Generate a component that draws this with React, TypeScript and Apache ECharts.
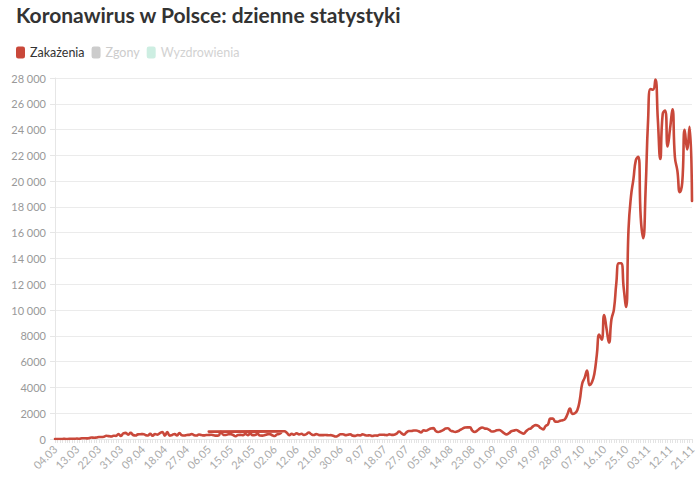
import React, { useEffect, useRef } from "react";
import * as echarts from "echarts";

// Day labels in data order (the source lists 06.06 as "06.05", and early July without a leading zero)
const labelsMar = ["04.03","05.03","06.03","07.03","08.03","09.03","10.03","11.03","12.03","13.03","14.03","15.03","16.03","17.03","18.03","19.03","20.03","21.03","22.03","23.03","24.03","25.03","26.03","27.03","28.03","29.03","30.03","31.03"];
const labelsApr = ["01.04","02.04","03.04","04.04","05.04","06.04","07.04","08.04","09.04","10.04","11.04","12.04","13.04","14.04","15.04","16.04","17.04","18.04","19.04","20.04","21.04","22.04","23.04","24.04","25.04","26.04","27.04","28.04","29.04","30.04"];
const labelsMay = ["01.05","02.05","03.05","04.05","05.05","06.05","07.05","08.05","09.05","10.05","11.05","12.05","13.05","14.05","15.05","16.05","17.05","18.05","19.05","20.05","21.05","22.05","23.05","24.05","25.05","26.05","27.05","28.05","29.05","30.05","31.05"];
const labelsJun = ["01.06","02.06","03.06","04.06","05.06","06.05","07.06","08.06","09.06","10.06","11.06","12.06","13.06","14.06","15.06","16.06","17.06","18.06","19.06","20.06","21.06","22.06","23.06","24.06","25.06","26.06","27.06","28.06","29.06","30.06"];
const labelsJul = ["1.07","2.07","3.07","4.07","5.07","6.07","7.07","8.07","9.07","10.07","11.07","12.07","13.07","14.07","15.07","16.07","17.07","18.07","19.07","20.07","21.07","22.07","23.07","24.07","25.07","26.07","27.07","28.07","29.07","30.07","31.07"];
const labelsAug = ["01.08","02.08","03.08","04.08","05.08","06.08","07.08","08.08","09.08","10.08","11.08","12.08","13.08","14.08","15.08","16.08","17.08","18.08","19.08","20.08","21.08","22.08","23.08","24.08","25.08","26.08","27.08","28.08","29.08","30.08","31.08"];
const labelsSep = ["01.09","02.09","03.09","04.09","05.09","06.09","07.09","08.09","09.09","10.09","11.09","12.09","13.09","14.09","15.09","16.09","17.09","18.09","19.09","20.09","21.09","22.09","23.09","24.09","25.09","26.09","27.09","28.09","29.09","30.09"];
const labelsOct = ["01.10","02.10","03.10","04.10","05.10","06.10","07.10","08.10","09.10","10.10","11.10","12.10","13.10","14.10","15.10","16.10","17.10","18.10","19.10","20.10","21.10","22.10","23.10","24.10","25.10","26.10","27.10","28.10","29.10","30.10","31.10"];
const labelsNov = ["01.11","02.11","03.11","04.11","05.11","06.11","07.11","08.11","09.11","10.11","11.11","12.11","13.11","14.11","15.11","16.11","17.11","18.11","19.11","20.11","21.11"];

// Daily infections (Zakażenia)
const casesMar = [0,4,1,5,6,5,9,20,17,36,14,52,61,49,70,111,98,115,152,150,170,249,224,193,256,243,392,244];
const casesApr = [437,475,333,475,311,267,357,370,380,318,268,401,260,380,336,461,545,263,545,263,313,381,285,460,285,266,316,322,381,299];
const casesMay = [270,351,307,282,307,318,325,294,259,271,595,310,309,364,380,305,216,311,318,303,384,304,416,299,316,395,271,260,312,361,379];
const casesJun = [292,230,361,396,576,575,599,480,300,395,340,440,359,407,314,375,506,371,305,377,320,300,302,311,290,298,261,193,260,371];
const casesJul = [371,302,329,358,262,243,299,280,358,299,276,290,233,270,262,335,334,322,301,359,318,337,418,584,443,337,512,615,615,657,658];
const casesAug = [599,512,680,640,726,809,843,619,548,601,680,811,832,658,594,548,597,700,811,887,903,900,650,547,650,800,887,820,790,700,580];
const casesSep = [600,680,700,600,450,360,450,600,650,700,600,500,420,600,757,830,1002,1080,1010,850,750,1000,1136,1587,1584,1350,1340,1420,1450,1552];
const casesOct = [1937,2367,1950,2000,2236,3003,4280,4739,5300,4178,4394,5068,6526,8099,7705,9622,8536,7482,9291,10040,12107,13632,13628,11742,10241,16300,18820,20156,21629,21897,17171];
const casesNov = [15578,19364,24692,27143,27086,27875,24785,21713,25221,25484,22683,24051,25571,21854,20816,19152,19883,23975,22464,24213,18467];

// Hidden series (switched off in the legend)
const deaths: number[] = [];
const recoveries: number[] = [];

const dayLabels = [...labelsMar, ...labelsApr, ...labelsMay, ...labelsJun, ...labelsJul, ...labelsAug, ...labelsSep, ...labelsOct, ...labelsNov];
const cases = [...casesMar, ...casesApr, ...casesMay, ...casesJun, ...casesJul, ...casesAug, ...casesSep, ...casesOct, ...casesNov];
const categories = dayLabels.filter((d, i) => dayLabels.indexOf(d) === i);

const seriesNames = ["Zakażenia", "Zgony", "Wyzdrowienia"];
const FONT = "Lato, 'Source Sans Pro', sans-serif";

const fmt = (v: number) => (v >= 10000 ? String(v).replace(/\B(?=(\d{3})+(?!\d))/g, " ") : String(v));

export default function App() {
  const ref = useRef<HTMLDivElement>(null);
  useEffect(() => {
    document.body.style.margin = "0";
    if (!ref.current) return;
    const chart = echarts.init(ref.current, undefined, { renderer: "svg" });
    chart.setOption({
      animation: false,
      backgroundColor: "#ffffff",
      title: {
        text: "Koronawirus w Polsce: dzienne statystyki",
        left: 16,
        top: 4,
        padding: 0,
        textStyle: { fontFamily: FONT, fontWeight: "bold", fontSize: 21, color: "#333333" },
      },
      legend: {
        left: 16,
        top: 46,
        padding: 0,
        itemWidth: 9,
        itemHeight: 12,
        itemGap: 7,
        icon: "roundRect",
        inactiveColor: "#cccccc",
        selected: { Zgony: false, Wyzdrowienia: false },
        data: [
          { name: seriesNames[0] },
          { name: seriesNames[1] },
          { name: seriesNames[2], inactiveColor: "#cdeee2" },
        ],
        formatter: (name: string) => (name === "Wyzdrowienia" ? "{g|" + name + "}" : name),
        textStyle: {
          fontFamily: FONT,
          fontSize: 12.5,
          color: "#333333",
          rich: { g: { color: "#d2d2d2", fontFamily: FONT, fontSize: 12.5 } },
        },
      },
      grid: { left: 55, right: 8, top: 78, bottom: 44 },
      xAxis: {
        type: "category",
        data: categories,
        boundaryGap: false,
        axisLine: { show: true, lineStyle: { color: "#e6e6e6" } },
        axisTick: { show: true, interval: 0, length: 4, lineStyle: { color: "#e4e4e4" } },
        axisLabel: { interval: 8, rotate: 45, color: "#aaaaaa", fontFamily: FONT, fontSize: 11, margin: 8 },
        splitLine: { show: false },
      },
      yAxis: {
        type: "value",
        min: 0,
        max: 28000,
        interval: 2000,
        axisLine: { show: true, lineStyle: { color: "#e6e6e6" } },
        axisTick: { show: true, length: 5, lineStyle: { color: "#e6e6e6" } },
        axisLabel: { color: "#999999", fontFamily: FONT, fontSize: 11, margin: 9, formatter: fmt },
        splitLine: { show: true, lineStyle: { color: "#ebebeb" } },
      },
      series: [
        {
          name: seriesNames[0],
          type: "line",
          data: dayLabels.map((d, i) => [d, cases[i]]),
          smooth: true,
          symbol: "none",
          showSymbol: false,
          itemStyle: { color: "#c9483a" },
          lineStyle: { width: 2.6, color: "#c9483a", cap: "round", join: "round" },
        },
        { name: seriesNames[1], type: "line", data: deaths, symbol: "none", itemStyle: { color: "#888888" } },
        { name: seriesNames[2], type: "line", data: recoveries, symbol: "none", itemStyle: { color: "#6fcfb0" } },
      ],
    });
    return () => chart.dispose();
  }, []);
  return <div ref={ref} style={{ width: 700, height: 483 }} />;
}
